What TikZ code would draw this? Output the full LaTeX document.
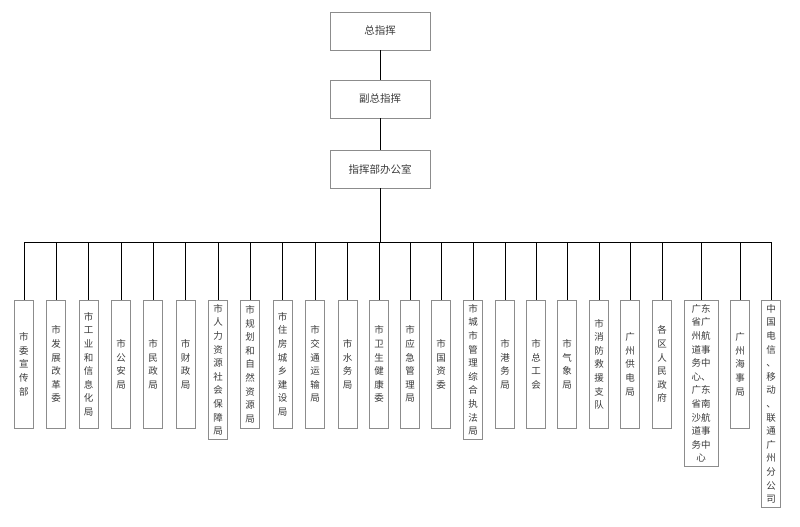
\documentclass[tikz,border=0pt]{standalone}
\usepackage{fontspec}
\usepackage{xcolor}
\usepackage{tikz}
\usetikzlibrary{positioning,calc}
\newfontfamily\cjk{Noto Sans CJK SC}
\definecolor{boxline}{HTML}{8C8C8C}
\definecolor{textgray}{HTML}{3A3A3A}

\begin{document}
\begin{tikzpicture}[x=1pt,y=-1pt,
  headbox/.style={draw=boxline,line width=0.5pt,minimum width=100pt,minimum height=38pt,inner sep=0pt,font=\cjk\fontsize{10.5}{12}\selectfont,text=textgray},
  unitbox/.style={draw=boxline,line width=0.5pt,anchor=north,minimum width=19pt,minimum height=128pt,inner xsep=2pt,inner ysep=4pt,align=center,font=\cjk\fontsize{9.5}{13.6}\selectfont,text=textgray},
  link/.style={black,line width=0.7pt}]
  \useasboundingbox (0,0) rectangle (800,527);

  % Top: command chain
  \node[headbox] (chief) at (380,31) {总指挥};
  \node[headbox] (deputy) at (380,99) {副总指挥};
  \node[headbox] (office) at (380,169) {指挥部办公室};
  \coordinate (bus) at (380,242);

  % Bottom: member units
  \node[unitbox] (c1) at (24,300) {市\\委\\宣\\传\\部};
  \node[unitbox] (c2) at (56,300) {市\\发\\展\\改\\革\\委};
  \node[unitbox] (c3) at (88.7,300) {市\\工\\业\\和\\信\\息\\化\\局};
  \node[unitbox] (c4) at (121,300) {市\\公\\安\\局};
  \node[unitbox] (c5) at (153,300) {市\\民\\政\\局};
  \node[unitbox] (c6) at (185.7,300) {市\\财\\政\\局};
  \node[unitbox] (c7) at (218,300) {市\\人\\力\\资\\源\\社\\会\\保\\障\\局};
  \node[unitbox] (c8) at (250,300) {市\\规\\划\\和\\自\\然\\资\\源\\局};
  \node[unitbox] (c9) at (282.7,300) {市\\住\\房\\城\\乡\\建\\设\\局};
  \node[unitbox] (c10) at (315,300) {市\\交\\通\\运\\输\\局};
  \node[unitbox] (c11) at (347.7,300) {市\\水\\务\\局};
  \node[unitbox] (c12) at (379,300) {市\\卫\\生\\健\\康\\委};
  \node[unitbox] (c13) at (410,300) {市\\应\\急\\管\\理\\局};
  \node[unitbox] (c14) at (441,300) {市\\国\\资\\委};
  \node[unitbox] (c15) at (473,300) {市\\城\\市\\管\\理\\综\\合\\执\\法\\局};
  \node[unitbox] (c16) at (505,300) {市\\港\\务\\局};
  \node[unitbox] (c17) at (536,300) {市\\总\\工\\会};
  \node[unitbox] (c18) at (567,300) {市\\气\\象\\局};
  \node[unitbox] (c19) at (599,300) {市\\消\\防\\救\\援\\支\\队};
  \node[unitbox] (c20) at (630,300) {广\\州\\供\\电\\局};
  \node[unitbox] (c21) at (662,300) {各\\区\\人\\民\\政\\府};
  \node[unitbox,minimum width=34pt] (c22) at (701,300) {广东\\省广\\州航\\道事\\务中\\心、\\广东\\省南\\沙航\\道事\\务中\\心};
  \node[unitbox] (c23) at (740,300) {广\\州\\海\\事\\局};
  \node[unitbox] (c24) at (771,300) {中\\国\\电\\信\\、\\移\\动\\、\\联\\通\\广\\州\\分\\公\\司};

  % Connectors
  \draw[link] (chief) -- (deputy);
  \draw[link] (deputy) -- (office);
  \draw[link] (office) -- (bus);
  \draw[link] (c1.north |- bus) -- (c24.north |- bus);
  \foreach \i in {1,...,24}
    \draw[link] (bus -| c\i.north) -- (c\i.north);
\end{tikzpicture}
\end{document}
